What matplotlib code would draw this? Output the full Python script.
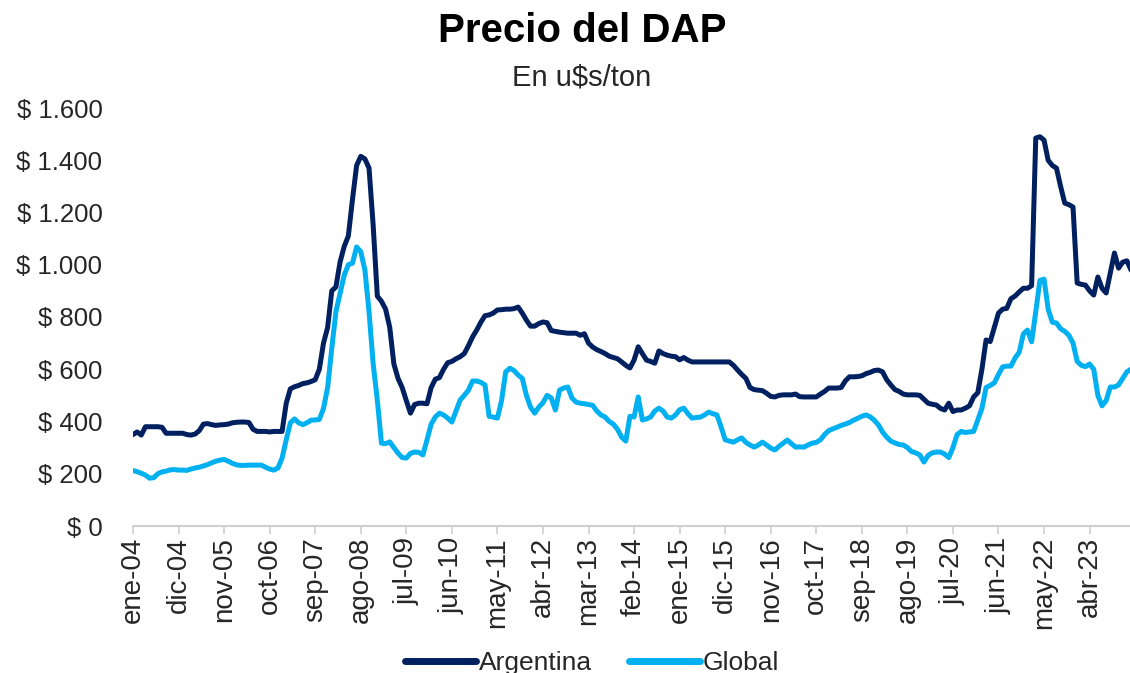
import matplotlib
matplotlib.use("Agg")
import matplotlib.pyplot as plt
import numpy as np

plt.rcParams['font.family'] = ['Liberation Sans', 'DejaVu Sans']

# Monthly prices, Jan-2004 .. Feb-2024 (u$s/ton)
argentina = [
    350, 360, 348, 380, 380, 380, 380, 378, 355, 355, 355, 355,      # 2004
    355, 350, 348, 352, 365, 390, 392, 388, 385, 387, 388, 390,      # 2005
    395, 397, 398, 398, 396, 370, 362, 362, 362, 360, 362, 362,      # 2006
    362, 470, 525, 533, 538, 545, 548, 553, 560, 600, 700, 760,      # 2007
    900, 915, 1010, 1070, 1110, 1250, 1380, 1415, 1405, 1370, 1150, 880,  # 2008
    860, 830, 760, 620, 565, 530, 480, 432, 465, 470, 470, 468,      # 2009
    530, 562, 568, 600, 625, 630, 640, 648, 660, 690, 724, 750,      # 2010
    780, 805, 808, 815, 827, 828, 830, 830, 832, 838, 815, 788,      # 2011
    765, 765, 775, 781, 778, 748, 745, 742, 740, 738, 738, 738,      # 2012
    730, 736, 700, 685, 675, 668, 660, 650, 645, 640, 628, 615,      # 2013
    605, 635, 686, 660, 635, 630, 623, 670, 660, 654, 650, 648,      # 2014
    636, 645, 635, 628, 628, 628, 628, 628, 628, 628, 628, 628,      # 2015
    628, 615, 597, 580, 565, 530, 522, 520, 518, 508, 496, 494,      # 2016
    500, 502, 502, 502, 505, 495, 494, 494, 494, 494, 505, 515,      # 2017
    528, 528, 528, 530, 555, 571, 571, 572, 575, 583, 588, 595,      # 2018
    597, 590, 560, 540, 522, 515, 505, 502, 502, 502, 500, 485,      # 2019
    470, 466, 463, 450, 444, 470, 438, 444, 444, 451, 460, 494,      # 2020
    510, 600, 712, 706, 760, 815, 830, 833, 870, 880, 896, 910,      # 2021
    910, 920, 1485, 1490, 1477, 1400, 1380, 1370, 1300, 1236, 1230, 1221,  # 2022
    930, 925, 922, 900, 884, 953, 910, 892, 968, 1045, 987, 1010,    # 2023
    1015, 980,                                                      # 2024
]

global_ = [
    212, 208, 202, 195, 183, 185, 200, 207, 210, 215, 216, 214,      # 2004
    214, 213, 218, 222, 225, 230, 235, 242, 248, 252, 255, 248,      # 2005
    240, 234, 232, 232, 233, 233, 233, 233, 225, 218, 214, 222,      # 2006
    260, 330, 395, 410, 395, 388, 395, 405, 406, 408, 450, 530,      # 2007
    680, 820, 890, 960, 1000, 1006, 1068, 1050, 980, 820, 620, 482,  # 2008
    317, 315, 322, 300, 279, 262, 260, 278, 283, 282, 272, 330,      # 2009
    390, 417, 432, 425, 413, 398, 440, 482, 500, 520, 555, 555,      # 2010
    550, 540, 420, 417, 413, 480, 590, 604, 595, 578, 565, 500,      # 2011
    455, 432, 455, 472, 500, 490, 444, 520, 528, 532, 490, 474,      # 2012
    470, 468, 465, 462, 440, 425, 417, 400, 390, 370, 340, 325,      # 2013
    420, 417, 494, 406, 410, 417, 440, 451, 440, 417, 413, 425,      # 2014
    445, 451, 430, 413, 415, 417, 425, 436, 430, 425, 380, 330,      # 2015
    325, 321, 330, 337, 320, 310, 302, 310, 321, 310, 298, 291,      # 2016
    305, 317, 329, 315, 302, 303, 302, 310, 317, 320, 330, 350,      # 2017
    365, 372, 378, 385, 390, 396, 405, 412, 420, 425, 418, 405,      # 2018
    387, 360, 340, 325, 318, 312, 310, 300, 285, 280, 272, 245,      # 2019
    270, 280, 283, 283, 275, 262, 300, 350, 362, 358, 360, 362,      # 2020
    406, 450, 530, 538, 548, 580, 609, 612, 612, 643, 665, 735,      # 2021
    750, 705, 820, 940, 945, 830, 780, 777, 755, 745, 730, 700,      # 2022
    630, 615, 610, 620, 600, 500, 460, 480, 532, 532, 540, 565,      # 2023
    590, 600,                                                       # 2024
]

tick_labels = ["ene-04", "dic-04", "nov-05", "oct-06", "sep-07", "ago-08",
               "jul-09", "jun-10", "may-11", "abr-12", "mar-13", "feb-14",
               "ene-15", "dic-15", "nov-16", "oct-17", "sep-18", "ago-19",
               "jul-20", "jun-21", "may-22", "abr-23"]
tick_step = 11  # months between labels

y_ticks = [0, 200, 400, 600, 800, 1000, 1200, 1400, 1600]

def fmt_money(v):
    return "$ " + f"{v:,.0f}".replace(",", ".")

W, H = 1130, 673
fig = plt.figure(figsize=(W / 100, H / 100), dpi=100)
ax = fig.add_axes([133 / W, 1 - 526 / H, (1131 - 133) / W, (526 - 108) / H])

months = np.arange(len(argentina))
c_arg = "#002060"
c_glob = "#00B0F0"
ax.plot(months, argentina, color=c_arg, lw=3.6, solid_joinstyle="round",
        solid_capstyle="round", label="Argentina", zorder=3)
ax.plot(np.arange(len(global_)), global_, color=c_glob, lw=3.6,
        solid_joinstyle="round", solid_capstyle="round", label="Global", zorder=2)

ax.set_xlim(0, len(argentina) - 1)
ax.set_ylim(0, 1600)
ax.set_yticks(y_ticks)
ax.set_yticklabels([fmt_money(v) for v in y_ticks], fontsize=18.5, color="#262626")
ax.set_xticks(np.arange(len(tick_labels)) * tick_step)
ax.set_xticklabels(tick_labels, rotation=90, fontsize=20, color="#262626")

for s in ["top", "right", "left"]:
    ax.spines[s].set_visible(False)
ax.spines["bottom"].set_color("#D0D0D0")
ax.spines["bottom"].set_linewidth(1.5)
ax.tick_params(axis="y", length=0, pad=22)
ax.tick_params(axis="x", length=6, width=1.2, color="#D0D0D0", pad=2)

fig.text(582 / W, 1 - 31 / H, "Precio del DAP", ha="center", va="center",
         fontsize=29, fontweight="bold", color="black")
fig.text(582 / W, 1 - 77 / H, "En u$s/ton", ha="center", va="center",
         fontsize=21, color="#262626")

leg = fig.legend(loc="center", bbox_to_anchor=(592 / W, 1 - 663 / H), ncol=2,
                 frameon=False, fontsize=19, handlelength=2.7,
                 handletextpad=0.1, columnspacing=1.4)
for line in leg.get_lines():
    line.set_linewidth(5)
for t in leg.get_texts():
    t.set_color("#262626")

fig.savefig("out.png", dpi=100)
